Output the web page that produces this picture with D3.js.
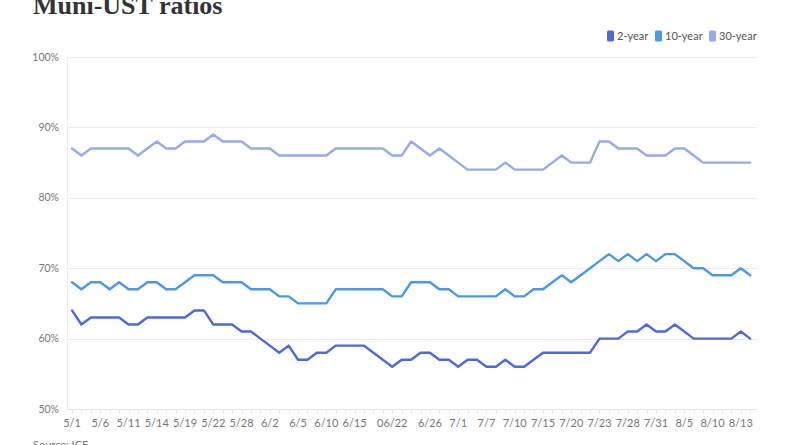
<!DOCTYPE html>
<html>
<head>
<meta charset="utf-8">
<script src="https://cdn.jsdelivr.net/npm/d3@7"></script>
<style>
  html, body { margin: 0; padding: 0; background: #fff; overflow: hidden; }
  svg { display: block; font-family: Lato, "Open Sans", sans-serif; }
  .title { font-family: "Liberation Serif", serif; font-weight: bold; font-size: 26px; fill: #333; }
  .ylab { font-size: 10.5px; fill: #777; }
  .xlab { font-size: 11px; fill: #777; }
  .legend-text { font-size: 11px; fill: #555; }
  .series { fill: none; stroke-width: 2.4; stroke-linejoin: round; stroke-linecap: round; }
</style>
</head>
<body>
<svg id="chart" width="800" height="445"></svg>
<script>
// trading days, May 1 - Aug 14
const dates = [
  "5/1","5/4","5/5","5/6","5/7","5/8","5/11","5/12","5/13","5/14","5/15","5/18","5/19","5/20","5/21","5/22",
  "5/26","5/27","5/28","5/29","6/1","6/2","6/3","6/4","6/5","6/8","6/9","6/10","6/11","6/12","6/15","6/16",
  "6/17","6/18","06/22","6/23","6/24","6/25","6/26","6/29","6/30","7/1","7/2","7/6","7/7","7/8","7/9","7/10",
  "7/13","7/14","7/15","7/16","7/17","7/20","7/21","7/22","7/23","7/24","7/27","7/28","7/29","7/30","7/31",
  "8/3","8/4","8/5","8/6","8/7","8/10","8/11","8/12","8/13","8/14"
];

const twoYear = [
  64,62,63,63,63,63,62,62,63,63,63,63,63,64,64,62,62,62,61,61,60,59,58,59,57,57,58,58,59,59,59,59,
  58,57,56,57,57,58,58,57,57,56,57,57,56,56,57,56,56,57,58,58,58,58,58,58,60,60,60,61,61,62,61,61,
  62,61,60,60,60,60,60,61,60
];

const tenYear = [
  68,67,68,68,67,68,67,67,68,68,67,67,68,69,69,69,68,68,68,67,67,67,66,66,65,65,65,65,67,67,67,67,
  67,67,66,66,68,68,68,67,67,66,66,66,66,66,67,66,66,67,67,68,69,68,69,70,71,72,71,72,71,72,71,72,
  72,71,70,70,69,69,69,70,69
];

const thirtyYear = [
  87,86,87,87,87,87,87,86,87,88,87,87,88,88,88,89,88,88,88,87,87,87,86,86,86,86,86,86,87,87,87,87,
  87,87,86,86,88,87,86,87,86,85,84,84,84,84,85,84,84,84,84,85,86,85,85,85,88,88,87,87,87,86,86,86,
  87,87,86,85,85,85,85,85,85
];

const seriesNames = ["2-year", "10-year", "30-year"];
const seriesColors = ["#4d68e2", "#4a97ec", "#97a9f0"];
const yTicks = [50, 60, 70, 80, 90, 100];
const tickLabels = ["5/1","5/6","5/11","5/14","5/19","5/22","5/28","6/2","6/5","6/10","6/15","06/22",
  "6/26","7/1","7/7","7/10","7/15","7/20","7/23","7/28","7/31","8/5","8/10","8/13"];

const svg = d3.select("#chart");
const plot = { left: 67, right: 757, top: 57, bottom: 409 };

svg.append("text").attr("class", "title").attr("x", 33).attr("y", 14).text("Muni-UST ratios");

const x = d3.scaleLinear().domain([0, dates.length - 1]).range([72, 750.2]);
const y = d3.scaleLinear().domain([50, 100]).range([plot.bottom, plot.top]);

// grid + y labels
const grid = svg.append("g").attr("class", "grid");
grid.selectAll("line.h")
  .data(yTicks)
  .join("line")
  .attr("class", "h")
  .attr("x1", plot.left).attr("x2", plot.right)
  .attr("y1", d => Math.round(y(d)) + 0.5)
  .attr("y2", d => Math.round(y(d)) + 0.5)
  .attr("stroke", d => d === 50 ? "#e2e2e2" : "#ececec");
grid.append("line")
  .attr("x1", plot.left + 0.5).attr("x2", plot.left + 0.5)
  .attr("y1", plot.top).attr("y2", plot.bottom)
  .attr("stroke", "#efefef");

svg.selectAll("text.ylab")
  .data(yTicks)
  .join("text")
  .attr("class", "ylab")
  .attr("x", 59)
  .attr("y", d => y(d))
  .attr("dy", "0.35em")
  .attr("text-anchor", "end")
  .text(d => d + "%");

// minor ticks at every data point
svg.append("g").selectAll("line")
  .data(dates)
  .join("line")
  .attr("x1", (d, i) => Math.round(x(i)) + 0.5)
  .attr("x2", (d, i) => Math.round(x(i)) + 0.5)
  .attr("y1", plot.bottom).attr("y2", plot.bottom + 4)
  .attr("stroke", "#e4e4e4");

svg.selectAll("text.xlab")
  .data(tickLabels)
  .join("text")
  .attr("class", "xlab")
  .attr("x", d => x(dates.indexOf(d)))
  .attr("y", plot.bottom + 14)
  .attr("dy", "0.35em")
  .attr("text-anchor", "middle")
  .text(d => d);

// lines (30-year drawn first so 2-year sits on top)
const line = d3.line().x((d, i) => x(i)).y(d => y(d));
const allSeries = [twoYear, tenYear, thirtyYear];
[2, 1, 0].forEach(k => {
  svg.append("path")
    .attr("class", "series")
    .attr("stroke", seriesColors[k])
    .attr("d", line(allSeries[k]));
});

// legend
const legendX = [607, 655, 709];
const legend = svg.append("g");
seriesNames.forEach((name, k) => {
  legend.append("rect")
    .attr("x", legendX[k]).attr("y", 30.5)
    .attr("width", 7).attr("height", 11).attr("rx", 1.5)
    .attr("fill", seriesColors[k]);
  legend.append("text")
    .attr("class", "legend-text")
    .attr("x", legendX[k] + 10).attr("y", 36)
    .attr("dy", "0.35em")
    .text(name);
});

svg.append("text")
  .attr("x", 33).attr("y", 449)
  .attr("font-size", 11).attr("fill", "#777")
  .text("Source: ICE");
</script>
</body>
</html>
